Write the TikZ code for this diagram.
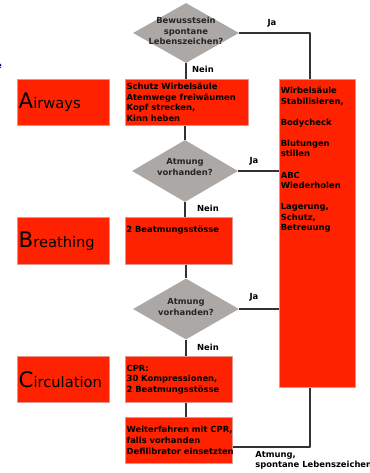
\documentclass[tikz,border=0pt]{standalone}
\usepackage{fontspec}
\setmainfont{DejaVu Sans}
\usetikzlibrary{shapes.geometric,positioning}
\definecolor{boxred}{RGB}{255,34,0}
\definecolor{rimred}{RGB}{225,150,140}
\definecolor{askgray}{RGB}{172,168,166}
\definecolor{linkgray}{RGB}{50,50,50}
\newcommand{\bigfirst}[1]{{\fontsize{16}{16}\selectfont #1}}
\begin{document}
\begin{tikzpicture}[x=0.75pt, y=-0.75pt, line join=round,
		font=\bfseries\fontsize{6.3}{7.9}\selectfont,
		box/.style={draw=rimred, line width=0.5pt, fill=boxred, anchor=north west, inner sep=1pt, align=left},
		phase/.style={box, text width=67pt, font=\mdseries\fontsize{11}{13}\selectfont},
		ask/.style={diamond, fill=askgray, inner sep=0pt, minimum width=79.5pt},
		asktext/.style={align=center, text=black!85},
		link/.style={draw=linkgray, line width=1.5pt},
		tag/.style={inner sep=0pt}]
	\useasboundingbox (0,0) rectangle (369,473);
	\clip (0,0) rectangle (369,473);
	
	\node[text=blue!60!black] (cutE) at (-1,66) {e};
	
	% phases
	\node[phase, minimum height=34.5pt] (airw) at (17,79) {\bigfirst{A}irways};
	\node[phase, minimum height=35.25pt] (breath) at (17,217) {\bigfirst{B}reathing};
	\node[phase, minimum height=34.5pt] (circ) at (17,356) {\bigfirst{C}irculation};
	
	% steps
	\node[box, text width=90.25pt, minimum height=34.5pt] (schutz) at (125,79) {Schutz Wirbelsäule\\Atemwege freiwäumen\\Kopf strecken,\\Kinn heben};
	\node[box, minimum width=80.25pt, minimum height=35.25pt] (beat) at (125,217) {};
	\node[tag, anchor=west] (beatT) at (126,230) {2 Beatmungsstösse};
	\node[box, text width=78.25pt, minimum height=34.5pt] (cpr) at (125,356) {CPR:\\30 Kompressionen,\\2 Beatmungsstösse};
	\node[box, text width=78.25pt, minimum height=34.5pt] (weiter) at (125,417) {\mbox{Weiterfahren mit CPR,}\\falls vorhanden\\\mbox{Defilibrator einsetzten}};
	\node[box, minimum width=57pt, minimum height=231pt] (tall) at (279,79) {};
	\node[tag, align=left, anchor=north west] (tallT) at ([shift={(1.5,8)}]tall.north west) {Wirbelsäule\\Stabilisieren,\\[7.9pt]Bodycheck\\[7.9pt]Blutungen\\stillen\\[7.9pt]ABC\\Wiederholen\\[7.9pt]Lagerung,\\Schutz,\\Betreuung};
	
	% questions
	\node[ask, minimum height=45pt] (d1) at (186,33) {};
	\node[asktext] (d1T) at (186,31) {Bewusstsein\\spontane\\Lebenszeichen?};
	\node[ask, minimum height=46.5pt] (d2) at (185,171) {};
	\node[asktext] (d2T) at (185,167) {Atmung\\vorhanden?};
	\node[ask, minimum height=45.75pt] (d3) at (186,309) {};
	\node[asktext] (d3T) at (186,307) {Atmung\\vorhanden?};
	
	% connectors
	\coordinate (jaTop) at (310,33);
	\coordinate (jaBot) at (310,447);
	\draw[link] (d1.south) -- (d1.south |- schutz.north);
	\draw[link] (d1.east) -- (jaTop) -- (jaTop |- tall.north);
	\draw[link] (d2.north |- schutz.south) -- (d2.north);
	\draw[link] (d2.east) -- (d2.east -| tall.west);
	\draw[link] (d2.south) -- (d2.south |- beat.north);
	\draw[link] (d3.north |- beat.south) -- (d3.north);
	\draw[link] (d3.east) -- (d3.east -| tall.west);
	\draw[link] (d3.south) -- (d3.south |- cpr.north);
	\draw[link] (d3.south |- cpr.south) -- (d3.south |- weiter.north);
	\draw[link] (weiter.east |- jaBot) -- (jaBot) -- (jaBot |- tall.south);
	
	% answers
	\node[tag] (ja1) at (272,23) {Ja};
	\node[tag] (ja2) at (254,161) {Ja};
	\node[tag] (ja3) at (254,297) {Ja};
	\node[tag] (nein1) at (203,69) {Nein};
	\node[tag] (nein2) at (208,208) {Nein};
	\node[tag] (nein3) at (208,347) {Nein};
	\node[tag, align=left, anchor=north west] (endT) at (255,451) {Atmung,\\spontane Lebenszeichen};
	
\end{tikzpicture}
\end{document}
